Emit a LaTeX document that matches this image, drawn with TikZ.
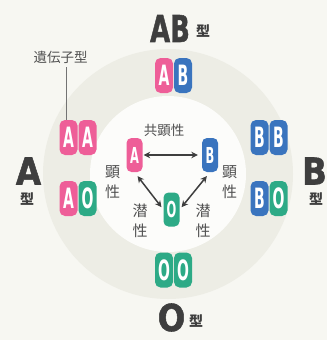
\documentclass[tikz,border=0pt]{standalone}
\usepackage{graphicx}
\usepackage{fontspec}
\usetikzlibrary{arrows.meta}
\newfontfamily\jpfont{Noto Sans CJK JP}
\newfontfamily\latfont{DejaVu Sans}
\newfontfamily\heavyfont[FakeBold=1.5]{DejaVu Sans Bold}
\definecolor{bgc}{HTML}{F7F7F2}
\definecolor{ringc}{HTML}{EDEDE5}
\definecolor{innerc}{HTML}{FCFCFA}
\definecolor{pinkc}{HTML}{EE5E98}
\definecolor{bluec}{HTML}{3A74BE}
\definecolor{greenc}{HTML}{2DAA86}
\definecolor{inkc}{HTML}{3E3E3E}
\definecolor{jpc}{HTML}{505050}
\newcommand\pl[1]{\scalebox{0.5}[1]{\fontsize{28}{28}\selectfont\latfont\bfseries #1}}
\newcommand\ps[1]{\scalebox{0.52}[1]{\fontsize{22}{22}\selectfont\latfont\bfseries #1}}
\newcommand\biglab[2]{\scalebox{#1}[1]{\fontsize{37}{37}\selectfont\heavyfont #2}}
\begin{document}
\begin{tikzpicture}[x=1pt,y=-1pt,
  pill/.style={rectangle,rounded corners=5.5pt,minimum width=18pt,minimum height=35pt,inner sep=0pt,text=white},
  spill/.style={rectangle,rounded corners=5pt,minimum width=16pt,minimum height=34pt,inner sep=0pt,text=white},
  pk/.style={fill=pinkc},
  bl/.style={fill=bluec},
  gr/.style={fill=greenc},
  jp/.style={inner sep=0pt,text=jpc,font=\jpfont\fontsize{15}{15}\selectfont},
  jps/.style={inner sep=0pt,text=jpc,font=\jpfont\fontsize{13.5}{13.5}\selectfont},
  jpk/.style={inner sep=0pt,text=inkc,font=\jpfont\bfseries\fontsize{14}{14}\selectfont},
  bigl/.style={inner sep=0pt,text=inkc},
  dbl/.style={{Stealth[length=6.5pt,width=6.5pt]}-{Stealth[length=6.5pt,width=6.5pt]},line width=1.5pt,draw=inkc}
]
\useasboundingbox (0,0) rectangle (327,340);
\fill[bgc] (0,0) rectangle (327,340);
\fill[ringc] (168,174) circle (125pt);
\fill[innerc] (168,174) circle (78pt);

% outer pills
\node[pill,pk] (ab1) at (164,75.5) {\pl{A}};
\node[pill,bl] (ab2) at (183,75.5) {\pl{B}};
\node[pill,pk] (aa1) at (68.5,137.5) {\pl{A}};
\node[pill,pk] (aa2) at (87.5,137.5) {\pl{A}};
\node[pill,pk] (ao1) at (68.5,198.5) {\pl{A}};
\node[pill,gr] (ao2) at (87.5,198.5) {\pl{O}};
\node[pill,bl] (bb1) at (259.5,137.5) {\pl{B}};
\node[pill,bl] (bb2) at (278.5,137.5) {\pl{B}};
\node[pill,bl] (bo1) at (259.5,198.5) {\pl{B}};
\node[pill,gr] (bo2) at (278.5,198.5) {\pl{O}};
\node[pill,gr] (oo1) at (164,270) {\pl{O}};
\node[pill,gr] (oo2) at (183,270) {\pl{O}};

% centre pills
\node[spill,pk] (cA) at (134.5,155) {\ps{A}};
\node[spill,bl] (cB) at (210,155) {\ps{B}};
\node[spill,gr] (cO) at (171.5,209.5) {\ps{O}};

\draw[dbl,shorten <=1pt,shorten >=4pt] (cA.east) -- (cB.west);
\draw[dbl,shorten <=5pt,shorten >=3pt] (cA.south) -- (cO.west);
\draw[dbl,shorten <=5pt,shorten >=3pt] (cB.south) -- (cO.east);

% labels
\node[bigl] (lab) at (170,28.5) {\biglab{0.7}{AB}};
\node[jpk] (labk) at (203,31) {型};
\node[jps] (gene) at (60.5,57.5) {遺伝子型};
\coordinate (g1) at (66,67);
\draw[jpc!80,line width=0.6pt] (g1) -- (g1 |- aa1.north);
\node[bigl] (la) at (28.5,171) {\biglab{0.88}{A}};
\node[jpk] (lak) at (27,199) {型};
\node[bigl] (lb) at (314.5,171) {\biglab{0.88}{B}};
\node[jpk] (lbk) at (316,199) {型};
\node[bigl] (lo) at (171.5,317.5) {\biglab{0.88}{O}};
\node[jpk] (lok) at (196,321.5) {型};

\node[jps] (kyo) at (164,130) {共顕性};
\node[jp] (k1) at (112.5,172) {顕};
\node[jp] (s1) at (112.5,192) {性};
\node[jp] (k2) at (229.5,172) {顕};
\node[jp] (s2) at (229.5,192) {性};
\node[jp] (z1) at (140,211) {潜};
\node[jp] (s3) at (140,231) {性};
\node[jp] (z2) at (203,211) {潜};
\node[jp] (s4) at (203,231) {性};
\end{tikzpicture}
\end{document}
